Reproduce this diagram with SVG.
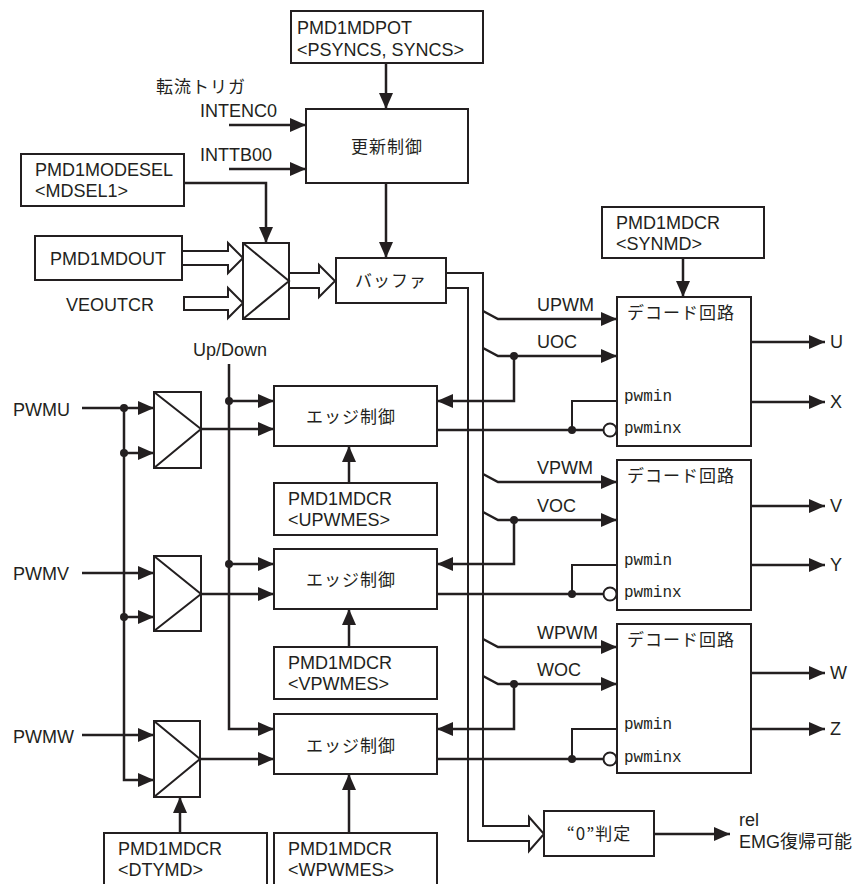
<svg xmlns="http://www.w3.org/2000/svg" width="856" height="884" viewBox="0 0 856 884">
<style>
.box{fill:#fff;stroke:#231f20;stroke-width:2}
.ln{fill:none;stroke:#231f20;stroke-width:2.5}
.th{fill:none;stroke:#231f20;stroke-width:2}
.ho{fill:#fff;stroke:#231f20;stroke-width:2;stroke-linejoin:miter}
.dot{fill:#231f20}
.t{font-family:"Liberation Sans","Noto Sans CJK JP",sans-serif;font-size:18px;fill:#231f20}
.j{font-family:"Noto Sans CJK JP",sans-serif;font-size:17px;letter-spacing:1px;fill:#231f20}
.m{font-family:"Liberation Mono",monospace;font-size:16px;fill:#231f20}
.c{text-anchor:middle}
</style>
<defs>
<marker id="ah" viewBox="0 0 16 14" refX="16" refY="7" markerWidth="16" markerHeight="14" markerUnits="userSpaceOnUse" orient="auto">
<path d="M0,0 L16,7 L0,14 z" fill="#231f20"/>
</marker>
</defs>
<rect width="856" height="884" fill="#fff"/>

<g id="connectors">
<path class="ln" d="M386,63 V109" marker-end="url(#ah)"/>
<path class="ln" d="M229,125 H306" marker-end="url(#ah)"/>
<path class="ln" d="M229,169 H306" marker-end="url(#ah)"/>
<path class="ln" d="M386,183 V258" marker-end="url(#ah)"/>
<path class="ln" d="M184,183 H266 V243" marker-end="url(#ah)"/>
<path class="ho" d="M182,251 H228 V243 L243,258 L228,273 V265 H182"/>
<path class="ho" d="M184,297 H228 V288 L243,303 L228,318 V310 H184 Z"/>
<path class="ho" d="M289,273 H319 V265 L335,281 L319,297 V288 H289"/>
<path class="th" d="M446,273 H483 V826 H529 V817 L544,834 L529,851 V841 H468 V288 H446"/>
<path class="ln" d="M483,311 L498,319 H617" marker-end="url(#ah)"/>
<path class="ln" d="M483,348 L498,356 H617" marker-end="url(#ah)"/>
<path class="ln" d="M514,356 V401 H437" marker-end="url(#ah)"/>
<circle class="dot" cx="514" cy="356" r="4"/>
<path class="ln" d="M437,430 H603.5"/>
<path class="th" d="M572,430 V401 H617"/>
<circle class="dot" cx="572" cy="430" r="4"/>
<circle cx="610" cy="430" r="6.5" fill="#fff" stroke="#231f20" stroke-width="2"/>
<path class="ln" d="M751,342 H825" marker-end="url(#ah)"/>
<path class="ln" d="M751,402 H825" marker-end="url(#ah)"/>
<path class="ln" d="M483,474 L498,482 H617" marker-end="url(#ah)"/>
<path class="ln" d="M483,512 L498,520 H617" marker-end="url(#ah)"/>
<path class="ln" d="M514,520 V564 H437" marker-end="url(#ah)"/>
<circle class="dot" cx="514" cy="520" r="4"/>
<path class="ln" d="M437,594 H603.5"/>
<path class="th" d="M572,594 V565 H617"/>
<circle class="dot" cx="572" cy="594" r="4"/>
<circle cx="610" cy="594" r="6.5" fill="#fff" stroke="#231f20" stroke-width="2"/>
<path class="ln" d="M751,506 H825" marker-end="url(#ah)"/>
<path class="ln" d="M751,565 H825" marker-end="url(#ah)"/>
<path class="ln" d="M483,639 L498,647 H617" marker-end="url(#ah)"/>
<path class="ln" d="M483,676 L498,684 H617" marker-end="url(#ah)"/>
<path class="ln" d="M514,684 V729 H437" marker-end="url(#ah)"/>
<circle class="dot" cx="514" cy="684" r="4"/>
<path class="ln" d="M437,759 H603.5"/>
<path class="th" d="M572,759 V729 H617"/>
<circle class="dot" cx="572" cy="759" r="4"/>
<circle cx="610" cy="759" r="6.5" fill="#fff" stroke="#231f20" stroke-width="2"/>
<path class="ln" d="M751,673 H825" marker-end="url(#ah)"/>
<path class="ln" d="M751,729 H825" marker-end="url(#ah)"/>
<path class="ln" d="M683,258 V297" marker-end="url(#ah)"/>
<path class="ln" d="M654,834 H730" marker-end="url(#ah)"/>
<path class="ln" d="M229,364 V729 H274" marker-end="url(#ah)"/>
<path class="ln" d="M229,401 H274" marker-end="url(#ah)"/>
<path class="ln" d="M229,564 H274" marker-end="url(#ah)"/>
<circle class="dot" cx="229" cy="401" r="4"/>
<circle class="dot" cx="229" cy="564" r="4"/>
<path class="ln" d="M201,429 H274" marker-end="url(#ah)"/>
<path class="ln" d="M201,594 H274" marker-end="url(#ah)"/>
<path class="ln" d="M200,759 H274" marker-end="url(#ah)"/>
<path class="ln" d="M82,408 H154" marker-end="url(#ah)"/>
<path class="ln" d="M124,408 V780 H154" marker-end="url(#ah)"/>
<path class="ln" d="M124,453 H154" marker-end="url(#ah)"/>
<path class="ln" d="M124,617 H154" marker-end="url(#ah)"/>
<circle class="dot" cx="124" cy="408" r="4"/>
<circle class="dot" cx="124" cy="453" r="4"/>
<circle class="dot" cx="124" cy="617" r="4"/>
<path class="ln" d="M82,573 H154" marker-end="url(#ah)"/>
<path class="ln" d="M82,735 H154" marker-end="url(#ah)"/>
<path class="ln" d="M349,483 V446" marker-end="url(#ah)"/>
<path class="ln" d="M349,647 V609" marker-end="url(#ah)"/>
<path class="ln" d="M349,833 V774" marker-end="url(#ah)"/>
<path class="ln" d="M180,833 V797" marker-end="url(#ah)"/>
</g>

<g id="labels">
<text class="j" x="156" y="93">転流トリガ</text>
<text class="t" x="200" y="117">INTENC0</text>
<text class="t" x="200" y="161">INTTB00</text>
<text class="t c" x="110" y="311">VEOUTCR</text>
<text class="t c" x="230" y="356">Up/Down</text>
<text class="t" x="13" y="416">PWMU</text>
<text class="t" x="13" y="580">PWMV</text>
<text class="t" x="13" y="743">PWMW</text>
<text class="t" x="537" y="311">UPWM</text>
<text class="t" x="537" y="348">UOC</text>
<text class="t" x="537" y="474">VPWM</text>
<text class="t" x="537" y="512">VOC</text>
<text class="t" x="537" y="639">WPWM</text>
<text class="t" x="537" y="676">WOC</text>
<text class="t" x="830" y="348">U</text>
<text class="t" x="830" y="408">X</text>
<text class="t" x="830" y="512">V</text>
<text class="t" x="830" y="571">Y</text>
<text class="t" x="830" y="679">W</text>
<text class="t" x="830" y="735">Z</text>
<text class="t" x="739" y="826">rel</text>
<text class="t" x="739" y="848">EMG復帰可能</text>
</g>

<g id="mdpot"><rect class="box" x="291" y="11" width="192" height="52"/><text class="t" x="297" y="34">PMD1MDPOT</text><text class="t" x="297" y="56">&lt;PSYNCS, SYNCS&gt;</text></g>
<g id="update"><rect class="box" x="306" y="109" width="162" height="74"/><text class="j c" x="387" y="153">更新制御</text></g>
<g id="modesel"><rect class="box" x="21" y="154" width="163" height="52"/><text class="t" x="35" y="176">PMD1MODESEL</text><text class="t" x="35" y="197">&lt;MDSEL1&gt;</text></g>
<g id="mdout"><rect class="box" x="35" y="236" width="147" height="44"/><text class="t c" x="108" y="265">PMD1MDOUT</text></g>
<g id="mux-out"><rect class="box" x="243" y="243" width="46" height="76"/><path class="th" d="M243,243 L289,281 L243,319"/></g>
<g id="buffer"><rect class="box" x="336" y="258" width="110" height="45"/><text class="j c" x="391" y="287">バッファ</text></g>
<g id="synmd"><rect class="box" x="602" y="207" width="162" height="51"/><text class="t" x="616" y="229">PMD1MDCR</text><text class="t" x="616" y="250">&lt;SYNMD&gt;</text></g>

<g id="decode-u"><rect class="box" x="617" y="297" width="134" height="149"/><text class="j" x="627" y="319">デコード回路</text><text class="m" x="624" y="401">pwmin</text><text class="m" x="624" y="433">pwminx</text></g>
<g id="decode-v"><rect class="box" x="617" y="460" width="134" height="150"/><text class="j" x="627" y="482">デコード回路</text><text class="m" x="624" y="565">pwmin</text><text class="m" x="624" y="597">pwminx</text></g>
<g id="decode-w"><rect class="box" x="617" y="624" width="134" height="149"/><text class="j" x="627" y="646">デコード回路</text><text class="m" x="624" y="729">pwmin</text><text class="m" x="624" y="762">pwminx</text></g>

<g id="edge-u"><rect class="box" x="274" y="386" width="163" height="60"/><text class="j c" x="351" y="423">エッジ制御</text></g>
<g id="edge-v"><rect class="box" x="274" y="549" width="163" height="60"/><text class="j c" x="351" y="586">エッジ制御</text></g>
<g id="edge-w"><rect class="box" x="274" y="714" width="163" height="60"/><text class="j c" x="351" y="752">エッジ制御</text></g>

<g id="upwmes"><rect class="box" x="274" y="483" width="163" height="52"/><text class="t" x="288" y="505">PMD1MDCR</text><text class="t" x="288" y="526">&lt;UPWMES&gt;</text></g>
<g id="vpwmes"><rect class="box" x="274" y="647" width="163" height="52"/><text class="t" x="288" y="669">PMD1MDCR</text><text class="t" x="288" y="690">&lt;VPWMES&gt;</text></g>
<g id="wpwmes"><rect class="box" x="274" y="833" width="163" height="70"/><text class="t" x="288" y="855">PMD1MDCR</text><text class="t" x="288" y="876">&lt;WPWMES&gt;</text></g>
<g id="dtymd"><rect class="box" x="104" y="833" width="163" height="70"/><text class="t" x="118" y="855">PMD1MDCR</text><text class="t" x="118" y="876">&lt;DTYMD&gt;</text></g>

<g id="mux-u"><rect class="box" x="154" y="392" width="47" height="76"/><path class="th" d="M154,392 L201,429 L154,468"/></g>
<g id="mux-v"><rect class="box" x="154" y="556" width="47" height="75"/><path class="th" d="M154,556 L201,594 L154,631"/></g>
<g id="mux-w"><rect class="box" x="154" y="721" width="46" height="76"/><path class="th" d="M154,721 L200,759 L154,797"/></g>

<g id="zero"><rect class="box" x="544" y="811" width="110" height="45"/><text class="j c" x="599" y="840">“0”判定</text></g>
</svg>
